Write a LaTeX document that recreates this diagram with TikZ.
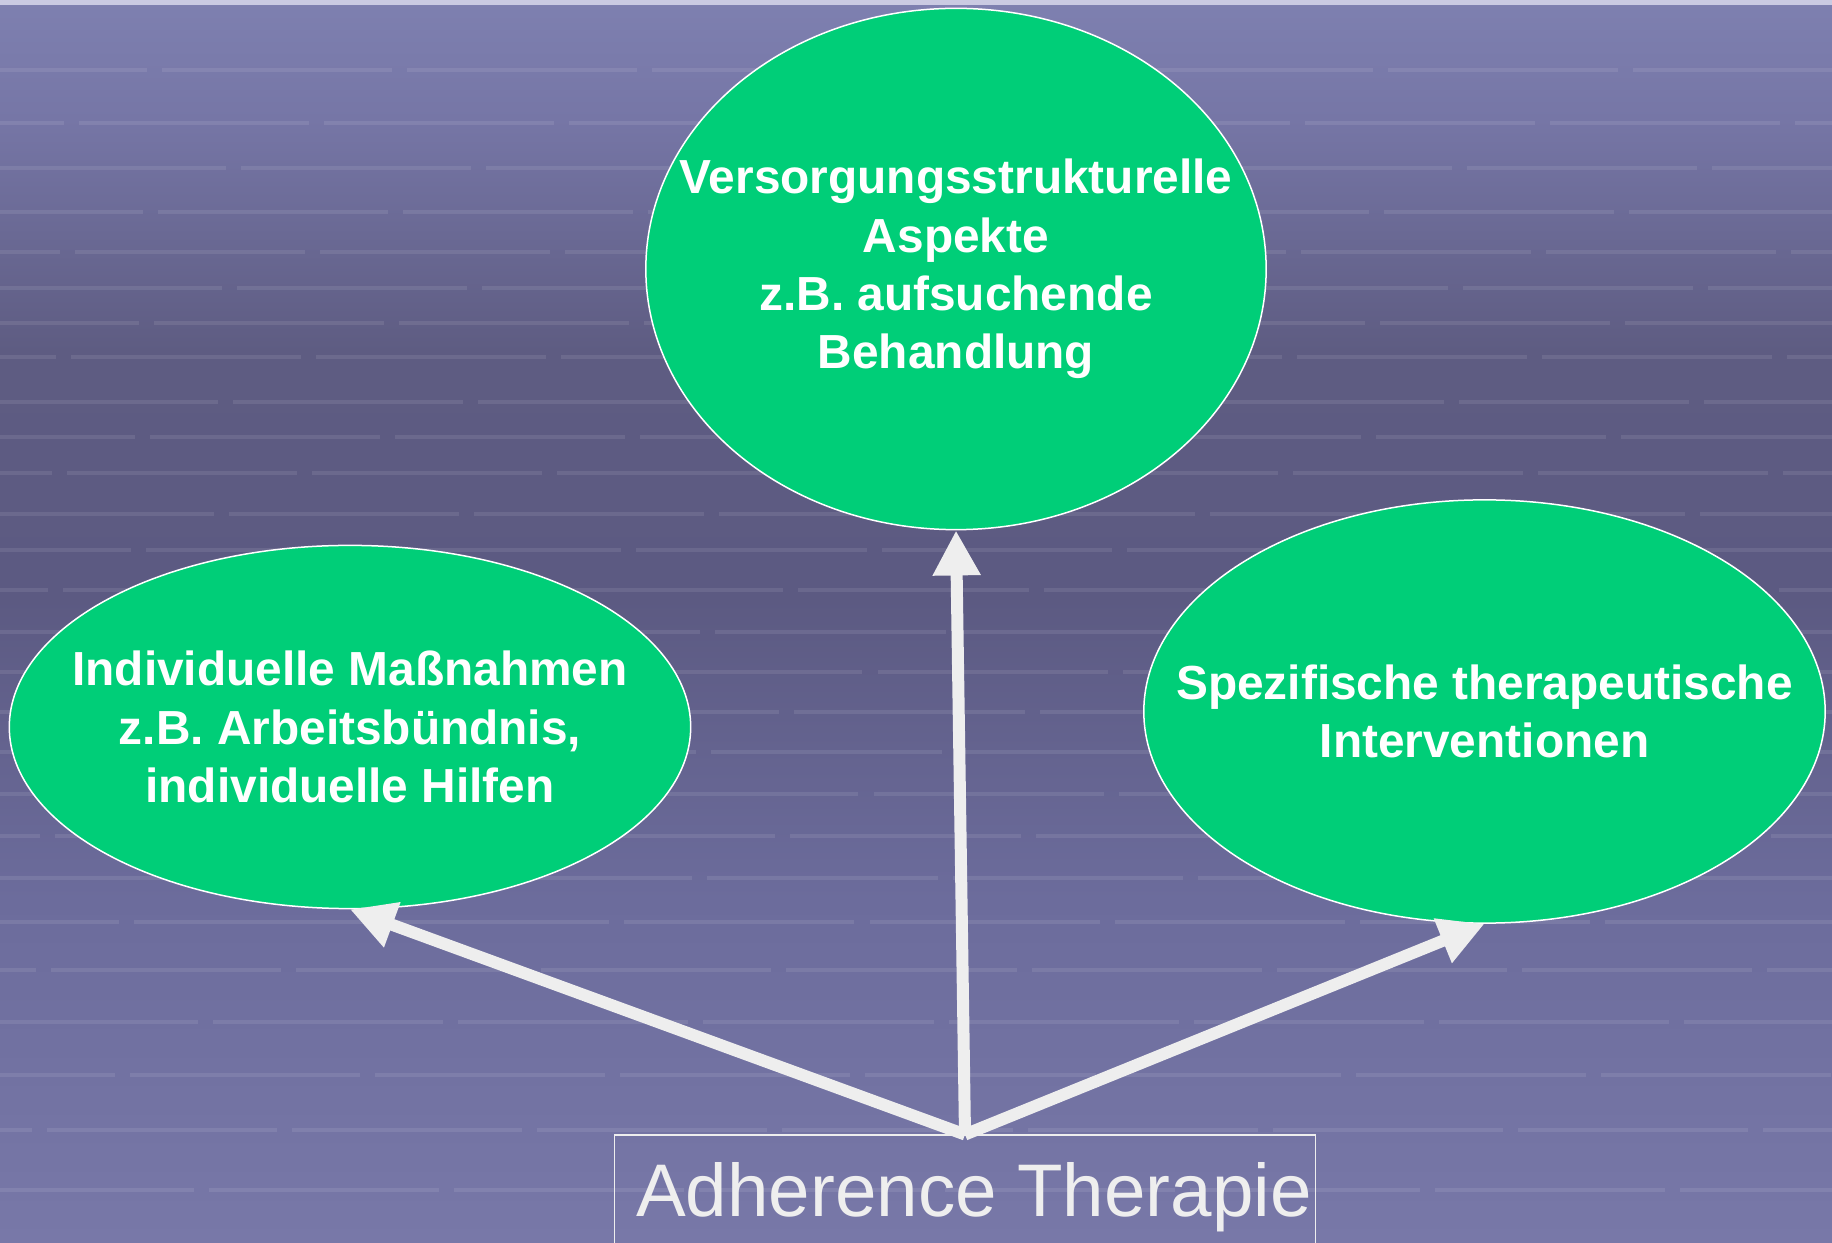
\documentclass[tikz,border=0pt]{standalone}
\usepackage{fontspec}
\setmainfont{Liberation Sans}
\usetikzlibrary{shapes.geometric,arrows.meta}
\definecolor{bgA}{HTML}{7E80B0}
\definecolor{bgB}{HTML}{7676A6}
\definecolor{bgC}{HTML}{5E5C82}
\definecolor{bgD}{HTML}{5C5A82}
\definecolor{bgE}{HTML}{6C6C9C}
\definecolor{bgF}{HTML}{7878A8}
\definecolor{topstrip}{HTML}{CACAE2}
\definecolor{ovalgreen}{HTML}{00CE78}
\definecolor{arrowgray}{HTML}{EEEEEE}
\pgfdeclareverticalshading{bgshade}{100bp}{color(0bp)=(bgF); color(25bp)=(bgF); color(38.8bp)=(bgE); color(50.9bp)=(bgD); color(60.9bp)=(bgC); color(70.2bp)=(bgB); color(75bp)=(bgA); color(100bp)=(bgA)}
\tikzset{
  oval/.style={ellipse, draw=white, line width=0.015cm, fill=ovalgreen, inner sep=0pt},
  ovaltext/.style={text=white, align=center, font=\bfseries\fontsize{13.6}{16.6}\selectfont, inner sep=0pt},
  arr/.style={draw=arrowgray, line width=0.12cm, -{Triangle[width=0.45cm,length=0.45cm]}},
  gridline/.style={draw=white, opacity=0.09, line width=0.04cm, dash pattern=on 2.3cm off 0.15cm},
  basebox/.style={draw=arrowgray, line width=0.015cm, rectangle, inner sep=0pt}
}
\begin{document}
\begin{tikzpicture}[x=0.01cm,y=-0.01cm]
\useasboundingbox (0,0) rectangle (1832,1243);
\shade[shading=bgshade] (0,0) rectangle (1832,1243);
\fill[topstrip] (0,0) rectangle (1832,5);
\foreach \yy [count=\i] in {70,123,168,212,252,288,323,357,402,437,473,514,550,590,632,672,712,752,794,836,878,922,970,1022,1075,1130,1190}
  \draw[gridline, dash phase={\i*0.83cm}] (0,\yy) -- (1832,\yy);
% ellipses
\node[oval, minimum width=6.20cm, minimum height=5.21cm] (top) at (956,269) {};
\node[oval, minimum width=6.81cm, minimum height=3.63cm] (left) at (350,727) {};
\node[oval, minimum width=6.81cm, minimum height=4.23cm] (right) at (1484.5,711.5) {};
\node[ovaltext] (toptext) at (top.center) {Versorgungsstrukturelle\\Aspekte\\z.B. aufsuchende\\Behandlung};
\node[ovaltext] (lefttext) at (left.center) {Individuelle Maßnahmen\\z.B. Arbeitsbündnis,\\individuelle Hilfen};
\node[ovaltext] (righttext) at (right.center) {Spezifische therapeutische\\Interventionen};
% base box
\node[basebox, minimum width=7.01cm, minimum height=1.6cm, anchor=north] (base) at (965,1134.5) {};
\node[text=arrowgray, font=\fontsize{21.2}{25}\selectfont, inner sep=0pt, anchor=base] (basetext) at (974,1216.7) {Adherence Therapie};
% arrows
\draw[arr] (base.north) -- (left.south);
\draw[arr] (base.north) -- (top.south);
\draw[arr] (base.north) -- (right.south);
\end{tikzpicture}
\end{document}
